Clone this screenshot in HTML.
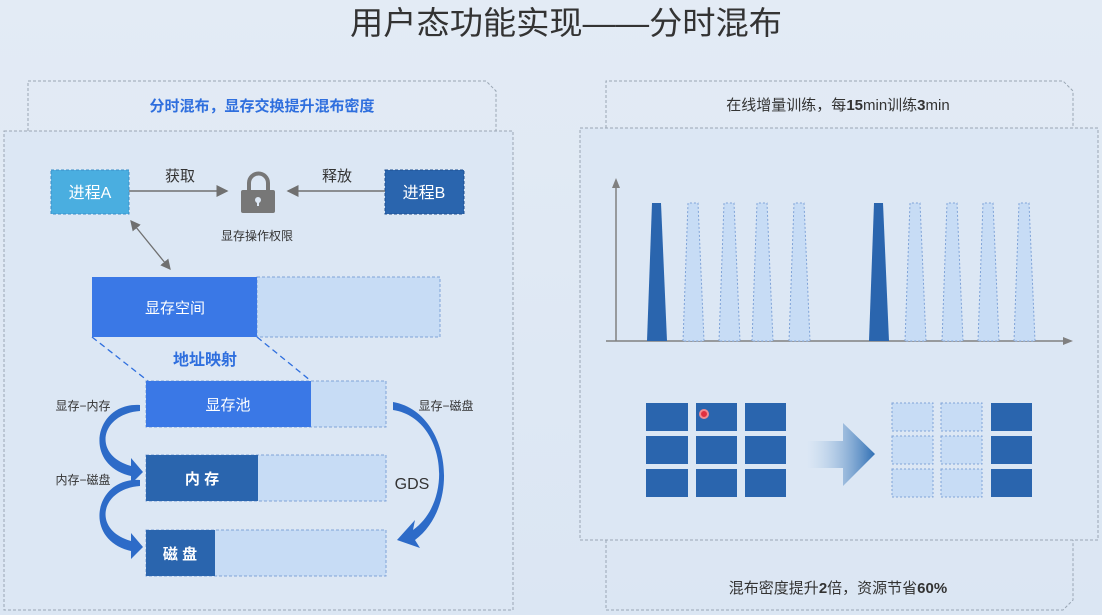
<!DOCTYPE html>
<html><head><meta charset="utf-8"><style>
html,body{margin:0;padding:0;background:#dfe8f3;}
svg{display:block;font-family:"Liberation Sans","Noto Sans CJK SC",sans-serif;}
</style></head><body>
<svg width="1102" height="615" viewBox="0 0 1102 615">
<defs>
<linearGradient id="bg" x1="0" y1="0" x2="0" y2="1"><stop offset="0" stop-color="#e3ebf5"/><stop offset="1" stop-color="#dbe6f3"/></linearGradient>
<linearGradient id="ar" x1="0" y1="0" x2="1" y2="0"><stop offset="0" stop-color="#dbe8f6" stop-opacity="0.3"/><stop offset="1" stop-color="#2f6fb4"/></linearGradient>
<marker id="m" markerWidth="8" markerHeight="8" refX="7" refY="4" orient="auto"><path d="M0,0 L8,4 L0,8 z" fill="#707070"/></marker>
<marker id="ms" markerWidth="8" markerHeight="8" refX="1" refY="4" orient="auto"><path d="M8,0 L0,4 L8,8 z" fill="#707070"/></marker>
</defs>
<rect width="1102" height="615" fill="url(#bg)"/>
<text x="566" y="34" text-anchor="middle" font-size="32" fill="#333" textLength="432" lengthAdjust="spacingAndGlyphs">用户态功能实现——分时混布</text>

<!-- left panel -->
<g fill="none" stroke="#9aa6b4" stroke-width="1" stroke-dasharray="3,2">
<path d="M28,131 V81 H486 L496,91 V131"/>
<rect x="4" y="131" width="509" height="479" fill="#dce7f4"/>
<path d="M606,128 V81 H1063 L1073,91 V128"/>
<rect x="580" y="128" width="518" height="412" fill="#dce7f4"/>
<path d="M606,540 V610 H1063 L1073,600 V540"/>
</g>
<text x="262" y="111" text-anchor="middle" font-size="15" font-weight="bold" fill="#2f6fde">分时混布，显存交换提升混布密度</text>
<text x="838" y="110" text-anchor="middle" font-size="15" fill="#333">在线增量训练，每<tspan font-weight="bold">15</tspan>min训练<tspan font-weight="bold">3</tspan>min</text>
<text x="838" y="593" text-anchor="middle" font-size="15" fill="#333">混布密度提升<tspan font-weight="bold">2</tspan>倍，资源节省<tspan font-weight="bold">60%</tspan></text>

<rect x="51" y="170" width="78" height="44" fill="#4aaee0" stroke="#3a8fc8" stroke-dasharray="3,2"/>
<text x="90" y="198" text-anchor="middle" font-size="16" fill="#fff">进程A</text>
<rect x="385" y="170" width="79" height="44" fill="#2a65ae" stroke="#1e4f90" stroke-dasharray="3,2"/>
<text x="424" y="198" text-anchor="middle" font-size="16" fill="#fff">进程B</text>
<line x1="129" y1="191" x2="227" y2="191" stroke="#707070" stroke-width="1.5" marker-end="url(#m)"/>
<line x1="385" y1="191" x2="288" y2="191" stroke="#707070" stroke-width="1.5" marker-end="url(#m)"/>
<text x="180" y="181" text-anchor="middle" font-size="15" fill="#333">获取</text>
<text x="337" y="181" text-anchor="middle" font-size="15" fill="#333">释放</text>
<path d="M249,191 V183 a9.5,9.5 0 0 1 19,0 V191" fill="none" stroke="#777" stroke-width="4"/>
<rect x="241" y="190" width="34" height="23" rx="2" fill="#777"/>
<circle cx="258" cy="200" r="3" fill="#dce7f4"/><rect x="257" y="200" width="2" height="6" fill="#dce7f4"/>
<text x="257" y="240" text-anchor="middle" font-size="12" fill="#333">显存操作权限</text>
<line x1="131" y1="221" x2="170" y2="269" stroke="#707070" stroke-width="1.3" marker-start="url(#ms)" marker-end="url(#m)"/>

<rect x="257" y="277" width="183" height="60" fill="#c7dcf5" stroke="#7fa3d8" stroke-dasharray="3,2"/>
<rect x="92" y="277" width="165" height="60" fill="#3a78e6"/>
<text x="175" y="313" text-anchor="middle" font-size="15" fill="#fff">显存空间</text>
<line x1="92" y1="337" x2="148" y2="381" stroke="#2f6fde" stroke-width="1.3" stroke-dasharray="6,4"/>
<line x1="257" y1="337" x2="311" y2="381" stroke="#2f6fde" stroke-width="1.3" stroke-dasharray="6,4"/>
<text x="205" y="365" text-anchor="middle" font-size="16" font-weight="bold" fill="#2f6fde">地址映射</text>

<rect x="146" y="381" width="240" height="46" fill="#c7dcf5" stroke="#7fa3d8" stroke-dasharray="3,2"/>
<rect x="146" y="381" width="165" height="46" fill="#3a78e6"/>
<text x="228" y="410" text-anchor="middle" font-size="15" fill="#fff">显存池</text>
<rect x="146" y="455" width="240" height="46" fill="#c7dcf5" stroke="#7fa3d8" stroke-dasharray="3,2"/>
<rect x="146" y="455" width="112" height="46" fill="#2a65ae"/>
<text x="202" y="484" text-anchor="middle" font-size="15" fill="#fff" font-weight="bold">内 存</text>
<rect x="146" y="530" width="240" height="46" fill="#c7dcf5" stroke="#7fa3d8" stroke-dasharray="3,2"/>
<rect x="146" y="530" width="69" height="46" fill="#2a65ae"/>
<text x="180" y="559" text-anchor="middle" font-size="15" fill="#fff" font-weight="bold">磁 盘</text>

<text x="83" y="410" text-anchor="middle" font-size="12" fill="#333">显存−内存</text>
<text x="83" y="484" text-anchor="middle" font-size="12" fill="#333">内存−磁盘</text>
<text x="446" y="410" text-anchor="middle" font-size="12" fill="#333">显存−磁盘</text>
<text x="412" y="489" text-anchor="middle" font-size="16" fill="#333">GDS</text>

<g fill="#2d6bc8">
<path d="M140,411 C100,414 92,455 131,466 L131,458 L143,472 L131,484 L131,476 C82,465 94,402 140,405 z"/>
<path d="M140,486 C100,489 92,530 131,541 L131,533 L143,547 L131,559 L131,551 C82,540 94,477 140,480 z"/>
<path d="M393,410 C445,418 455,500 413,530 L415,520 L397,540 L420,548 L415,540 C462,505 450,412 393,402 z"/>
</g>

<!-- chart -->
<line x1="616" y1="341" x2="616" y2="186" stroke="#808080" stroke-width="1.5"/>
<path d="M612,188 L616,178 L620,188 z" fill="#808080"/>
<line x1="606" y1="341" x2="1065" y2="341" stroke="#808080" stroke-width="1.5"/>
<path d="M1063,337 L1073,341 L1063,345 z" fill="#808080"/>
<g>
<path d="M647,341 L652,203 H661 L667,341 z" fill="#2a65ae"/>
<path d="M869,341 L874,203 H883 L889,341 z" fill="#2a65ae"/>
<g fill="#c7dcf5" stroke="#7fa3d8" stroke-dasharray="2,2" stroke-width="1">
<path d="M683,341 L688,203 H698 L704,341 z"/>
<path d="M719,341 L724,203 H734 L740,341 z"/>
<path d="M752,341 L757,203 H767 L773,341 z"/>
<path d="M789,341 L794,203 H804 L810,341 z"/>
<path d="M905,341 L910,203 H920 L926,341 z"/>
<path d="M942,341 L947,203 H957 L963,341 z"/>
<path d="M978,341 L983,203 H993 L999,341 z"/>
<path d="M1014,341 L1019,203 H1029 L1035,341 z"/>
</g>
</g>

<!-- grids -->
<g fill="#2a65ae">
<rect x="646" y="403" width="42" height="28"/><rect x="696" y="403" width="41" height="28"/><rect x="745" y="403" width="41" height="28"/>
<rect x="646" y="436" width="42" height="28"/><rect x="696" y="436" width="41" height="28"/><rect x="745" y="436" width="41" height="28"/>
<rect x="646" y="469" width="42" height="28"/><rect x="696" y="469" width="41" height="28"/><rect x="745" y="469" width="41" height="28"/>
<rect x="991" y="403" width="41" height="28"/><rect x="991" y="436" width="41" height="28"/><rect x="991" y="469" width="41" height="28"/>
</g>
<circle cx="704" cy="414" r="4" fill="#e03040" stroke="#f08a90" stroke-width="2"/>
<g fill="#c7dcf5" stroke="#7fa3d8" stroke-dasharray="2,2">
<rect x="892" y="403" width="41" height="28"/><rect x="941" y="403" width="41" height="28"/>
<rect x="892" y="436" width="41" height="28"/><rect x="941" y="436" width="41" height="28"/>
<rect x="892" y="469" width="41" height="28"/><rect x="941" y="469" width="41" height="28"/>
</g>
<path d="M807,441 H843 V423 L875,454 L843,486 V468 H807 z" fill="url(#ar)"/>
</svg>
</body></html>
